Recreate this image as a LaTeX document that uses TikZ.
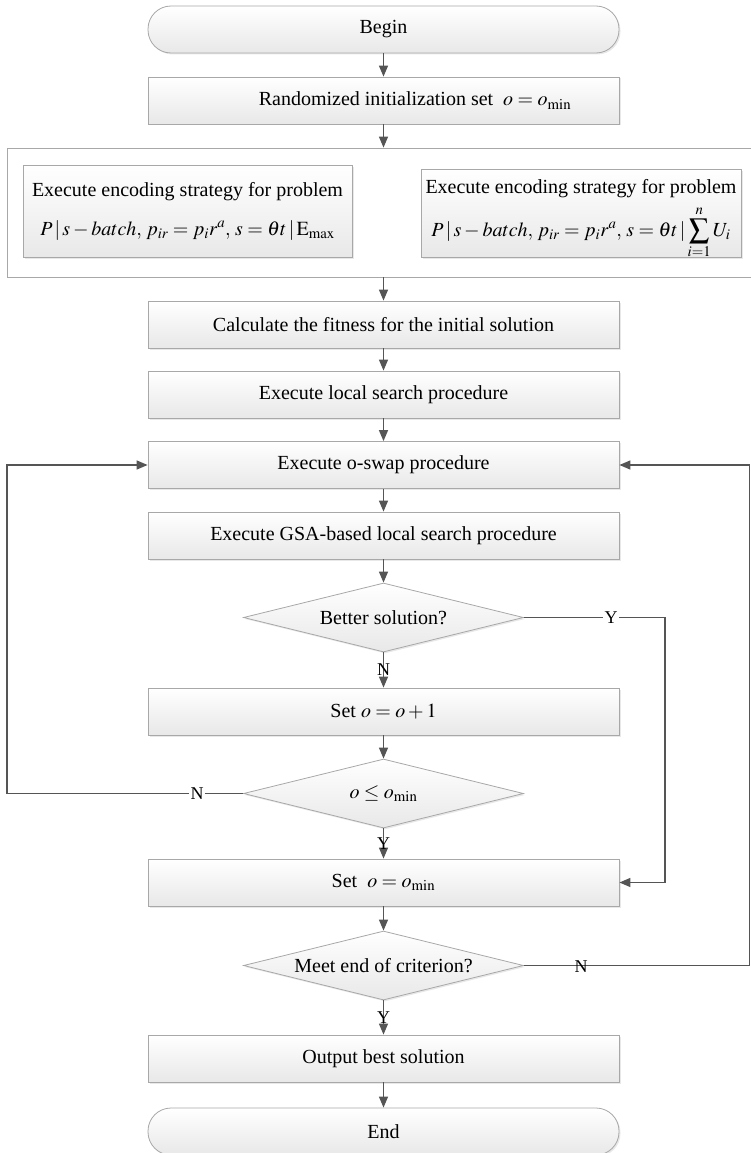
\documentclass[tikz,border=0pt]{standalone}
\usepackage{mathptmx}
\usepackage{fontspec}
\setmainfont{Liberation Serif}
\usetikzlibrary{shapes.geometric,shadows,arrows.meta}
\definecolor{ln}{HTML}{555555}
\definecolor{bd}{HTML}{A8A8A8}
\tikzset{
  base/.style={draw=bd, line width=0.8pt, top color=white, bottom color=black!9,
    font=\fontsize{20}{24}\selectfont, inner sep=2pt,
    drop shadow={opacity=0.18, shadow xshift=1.5pt, shadow yshift=-1.5pt}},
  proc/.style={base, rectangle, minimum width=471pt, minimum height=47pt},
  term/.style={base, rectangle, rounded corners=23pt, minimum width=471pt, minimum height=47pt},
  dec/.style={base, diamond, aspect=4, minimum width=280pt, minimum height=69pt, inner sep=0pt},
  encbox/.style={base, rectangle, align=center, inner sep=0pt},
  grp/.style={draw=bd, line width=0.8pt, fill=white, rectangle, inner sep=0pt},
  arr/.style={draw=ln, line width=1.4pt, -{Triangle[length=11pt,width=9pt]}},
  lbl/.style={font=\fontsize{18}{20}\selectfont, inner sep=1.5pt},
  txt/.style={font=\fontsize{20}{24}\selectfont, inner sep=0pt}
}
\begin{document}
\begin{tikzpicture}[x=1pt,y=-1pt]
\useasboundingbox (0,0) rectangle (751,1153);
% terminals and process boxes
\node[term] (begin) at (383.5,29.5) {Begin};
\node[proc] (init) at (383.5,100.5) {};
\node[txt] (initlbl) at (415,100.5) {Randomized initialization set \ $o=o_{\min}$};
% group box
\node[grp, minimum width=752pt, minimum height=129pt] (outer) at (383,212.5) {};
\node[encbox, minimum width=329pt, minimum height=92pt] (encl) at (187.5,211)
  {Execute encoding strategy for problem\\[15pt]
   $P\,|\,s-batch,\, p_{ir}=p_i r^{a},\, s=\theta t\,|\,\mathrm{E}_{\max}$};
\node[encbox, minimum width=320pt, minimum height=88pt] (encr) at (581,213) {};
\node[txt, anchor=base] (encrt) at (581,193) {Execute encoding strategy for problem};
\node[txt, anchor=base] (encrf) at (581,236)
  {$P\,|\,s-batch,\, p_{ir}=p_i r^{a},\, s=\theta t\,|\displaystyle\sum_{i=1}^{n} U_i$};
\node[proc] (calc) at (383.5,324.5) {Calculate the fitness for the initial solution};
\node[proc] (local) at (383.5,394.5) {Execute local search procedure};
\node[proc] (oswap) at (383.5,465) {Execute o-swap procedure};
\node[proc] (gsa) at (383.5,535.5) {Execute GSA-based local search procedure};
\node[dec] (better) at (383.5,617.5) {Better solution?};
\node[proc] (setinc) at (383.5,711.5) {Set $o=o+1$};
\node[dec] (leq) at (383.5,793.5) {$o\le o_{\min}$};
\node[proc] (setmin) at (383.5,882.5) {Set \ $o=o_{\min}$};
\node[dec] (meet) at (383.5,965.5) {Meet end of criterion?};
\node[proc] (output) at (383.5,1058.5) {Output best solution};
\node[term] (end) at (383.5,1131.5) {End};
% helper coordinates
\coordinate (lx) at (7,0);
\coordinate (rx) at (665,0);
\coordinate (ex) at (749.5,0);
% main flow
\draw[arr] (begin) -- (init);
\draw[arr] (init.south) -- (init.south |- outer.north);
\draw[arr] (calc.north |- outer.south) -- (calc.north);
\draw[arr] (calc) -- (local);
\draw[arr] (local) -- (oswap);
\draw[arr] (oswap) -- (gsa);
\draw[arr] (gsa) -- (better);
\draw[arr] (better) -- (setinc);
\draw[arr] (setinc) -- (leq);
\draw[arr] (leq) -- (setmin);
\draw[arr] (setmin) -- (meet);
\draw[arr] (meet) -- (output);
\draw[arr] (output) -- (end);
% loops
\draw[arr] (leq.west) -- (leq.west -| lx) |- (oswap.west);
\draw[arr] (better.east) -- (better.east -| rx) |- (setmin.east);
\draw[arr] (meet.east) -- (meet.east -| ex) |- (oswap.east);
% labels
\node[lbl] (n1) at (383.5,670) {N};
\node[lbl] (y1) at (383.5,843.5) {Y};
\node[lbl] (y2) at (383.5,1017.5) {Y};
\node[lbl, fill=white] (y3) at (611,617.5) {Y};
\node[lbl, fill=white] (n2) at (197,793.5) {N};
\node[lbl] (n3) at (581,967) {N};
\end{tikzpicture}
\end{document}
